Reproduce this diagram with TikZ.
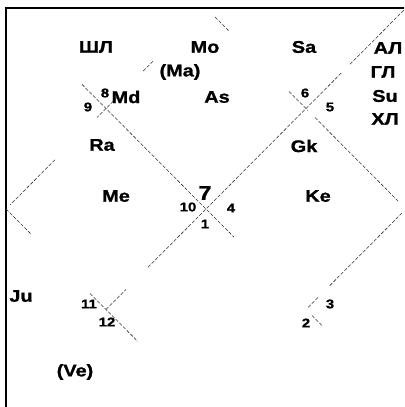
\documentclass[tikz,border=0pt]{standalone}
\usepackage{fontspec}
\setmainfont{Liberation Sans}[FakeStretch=1.18, FakeBold=1.2]
\usetikzlibrary{calc}
\tikzset{
  planet/.style   ={font=\bfseries\fontsize{12}{14}\selectfont, inner sep=0pt},
  housenum/.style ={font=\bfseries\fontsize{9}{11}\selectfont, inner sep=0pt},
  lagnanum/.style ={font=\bfseries\fontsize{14}{16}\selectfont, inner sep=0pt},
  chartline/.style={dash pattern=on 2.5pt off 1.2pt, line width=0.4pt, draw=black!80},
  chartframe/.style={line width=1.3pt, draw=black}
}
\begin{document}
\begin{tikzpicture}[x=0.025cm, y=-0.025cm]
\useasboundingbox (0,0) rectangle (404,407);
\clip (0,0) rectangle (404,407);
% ---- Chart frame ----
\coordinate (tl) at (6,8);
\coordinate (tr) at (406,8);
\coordinate (bl) at (6,410);
\coordinate (br) at (406,410);
\coordinate (tm) at (206,8);
\coordinate (lm) at (6,209);
\coordinate (rm) at (406,209);
\coordinate (bm) at (206,410);
\draw[chartframe] (tl) rectangle (br);

% ---- Diagonals (faint, broken) ----
\foreach \a/\b in {0.19/0.57, 0.765/0.79}
  \draw[chartline] ($(tl)!\a!(br)$) -- ($(tl)!\b!(br)$);
\foreach \a/\b in {0.25/0.30, 0.355/0.84, 0.86/0.995}
  \draw[chartline] ($(bl)!\a!(tr)$) -- ($(bl)!\b!(tr)$);

% ---- Diamond ----
\foreach \a/\b in {0.265/0.32, 0.445/0.545, 0.755/0.98}
  \draw[chartline] ($(tm)!\a!(lm)$) -- ($(tm)!\b!(lm)$);
\foreach \a/\b in {0/0.125, 0.42/0.66}
  \draw[chartline] ($(lm)!\a!(bm)$) -- ($(lm)!\b!(bm)$);
\foreach \a/\b in {0.045/0.115, 0.415/0.51, 0.545/0.965}
  \draw[chartline] ($(tm)!\a!(rm)$) -- ($(tm)!\b!(rm)$);
\foreach \a/\b in {0.02/0.385, 0.44/0.49}
  \draw[chartline] ($(rm)!\a!(bm)$) -- ($(rm)!\b!(bm)$);

% ---- House numbers ----
\node[lagnanum] (h7) at (205,193) {7};
\node[housenum] (h10) at (188,207) {10};
\node[housenum] (h4) at (231,208) {4};
\node[housenum] (h1) at (205,224) {1};
\node[housenum] (h8) at (105,93) {8};
\node[housenum] (h9) at (88,107) {9};
\node[housenum] (h6) at (305,93) {6};
\node[housenum] (h5) at (330,107) {5};
\node[housenum] (h11) at (89,304) {11};
\node[housenum] (h12) at (107,322) {12};
\node[housenum] (h3) at (330,304) {3};
\node[housenum] (h2) at (306,323) {2};

% ---- Planets ----
\node[planet] (shl) at (96,47) {ШЛ};
\node[planet] (mo) at (205,47) {Mo};
\node[planet] (sa) at (304,47) {Sa};
\node[planet] (al) at (388,48) {АЛ};
\node[planet] (ma) at (180,72) {(Ma)};
\node[planet] (gl) at (383,72) {ГЛ};
\node[planet] (su) at (385,96) {Su};
\node[planet] (khl) at (385,119) {ХЛ};
\node[planet] (md) at (126,97) {Md};
\node[planet] (as) at (217,97) {As};
\node[planet] (ra) at (102,145) {Ra};
\node[planet] (gk) at (304,146) {Gk};
\node[planet] (me) at (116,196) {Me};
\node[planet] (ke) at (318,196) {Ke};
\node[planet] (ju) at (21,296) {Ju};
\node[planet] (ve) at (75,372) {(Ve)};
\end{tikzpicture}
\end{document}
